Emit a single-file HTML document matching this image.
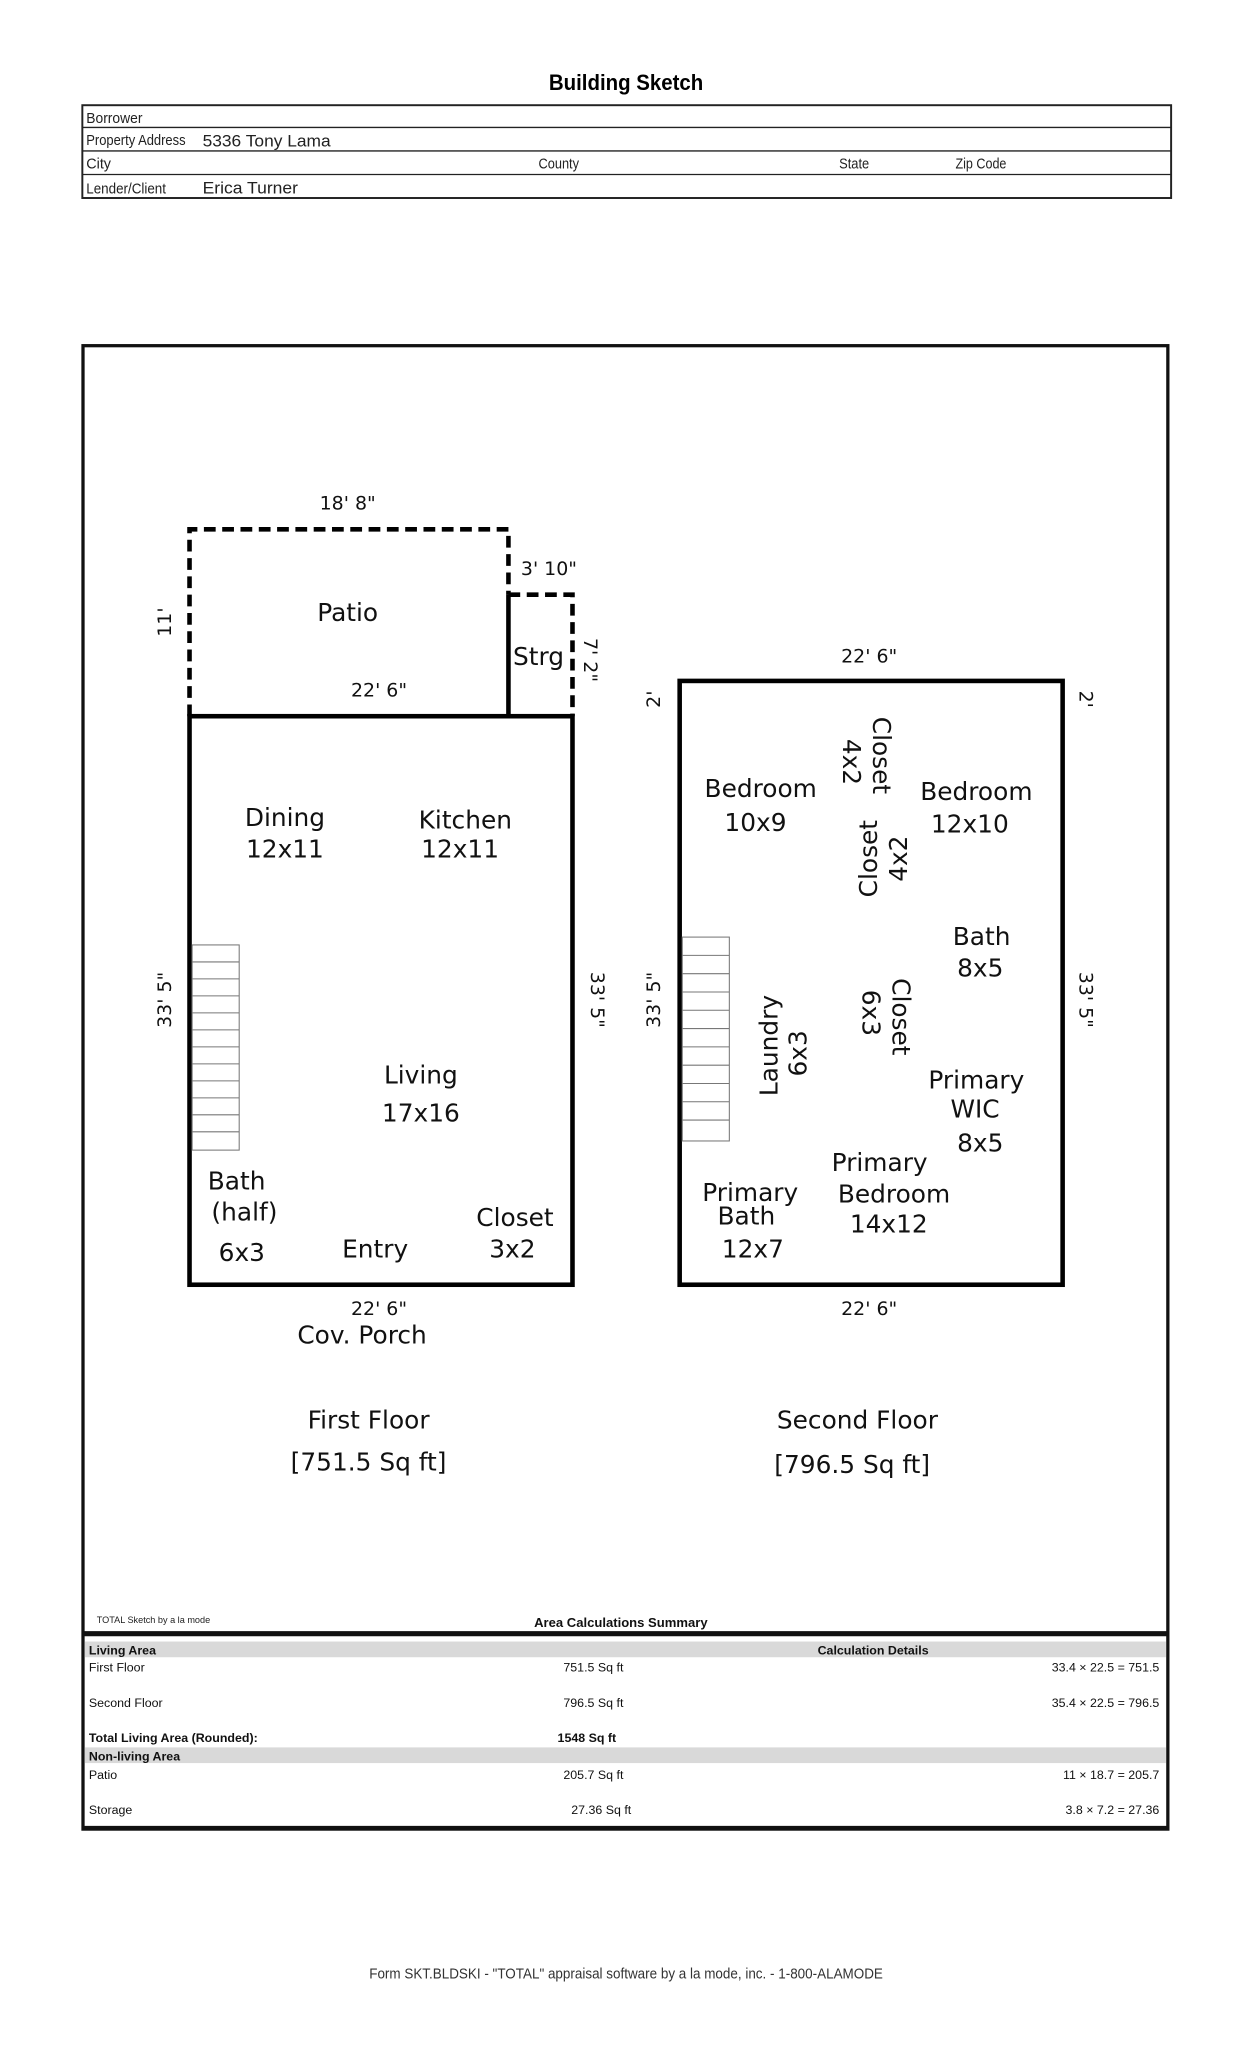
<!DOCTYPE html>
<html><head><meta charset="utf-8"><style>
html,body{margin:0;padding:0;background:#fff;}
svg{display:block;}
.c{font-family:"Liberation Sans Narrow","Liberation Sans",sans-serif;}
.r{font-family:"DejaVu Sans",sans-serif;fill:#111;}
</style></head><body>
<svg width="1243" height="2048" viewBox="0 0 951 1567" preserveAspectRatio="none" xmlns="http://www.w3.org/2000/svg">
<rect width="951" height="1567" fill="#fff"/>
<text x="479" y="69" text-anchor="middle" font-family="Liberation Sans" font-weight="bold" font-size="17" transform="translate(479 0) scale(0.92 1) translate(-479 0)">Building Sketch</text>
<g fill="none" stroke="#222">
<rect x="63" y="80.5" width="833" height="71" stroke-width="1.5"/>
<line x1="63" y1="97.5" x2="896" y2="97.5" stroke-width="1"/>
<line x1="63" y1="115.5" x2="896" y2="115.5" stroke-width="1"/>
<line x1="63" y1="133.5" x2="896" y2="133.5" stroke-width="1"/>
</g>
<g class="c" font-size="11" fill="#222">
<text x="66" y="94" textLength="43" lengthAdjust="spacingAndGlyphs">Borrower</text>
<text x="66" y="111" textLength="76" lengthAdjust="spacingAndGlyphs">Property Address</text>
<text x="155" y="112" font-size="12.5" textLength="98" lengthAdjust="spacingAndGlyphs">5336 Tony Lama</text>
<text x="66" y="129">City</text>
<text x="412" y="129" textLength="31" lengthAdjust="spacingAndGlyphs">County</text>
<text x="642" y="129" textLength="23" lengthAdjust="spacingAndGlyphs">State</text>
<text x="731" y="129" textLength="39" lengthAdjust="spacingAndGlyphs">Zip Code</text>
<text x="66" y="148" textLength="61" lengthAdjust="spacingAndGlyphs">Lender/Client</text>
<text x="155" y="148" font-size="12.5" textLength="73" lengthAdjust="spacingAndGlyphs">Erica Turner</text>
</g>
<rect x="63.5" y="264.5" width="830" height="1135" fill="none" stroke="#111" stroke-width="2.5"/>
<line x1="63" y1="1250" x2="894" y2="1250" stroke="#111" stroke-width="4"/>
<g stroke="#000" fill="none" stroke-width="3.5">
<rect x="145" y="548" width="293" height="435"/>
<path d="M145 548 V405 H389 V455" stroke-dasharray="9 5"/>
<path d="M389 455 H438 V548" stroke-dasharray="9 5"/>
<line x1="389" y1="455" x2="389" y2="548"/>
<rect x="520" y="521" width="293" height="462"/>
</g>
<g stroke="#777" stroke-width="0.8" fill="none">
<rect x="147" y="723" width="36" height="157"/>
<path d="M147 736H183M147 749H183M147 762H183M147 775H183M147 788H183M147 801H183M147 814H183M147 827H183M147 840H183M147 853H183M147 866H183"/>
<rect x="522" y="717" width="36" height="156"/>
<path d="M522 731H558M522 745H558M522 759H558M522 773H558M522 787H558M522 801H558M522 815H558M522 829H558M522 843H558M522 857H558"/>
</g>
<g class="r" font-size="14.5" text-anchor="middle">
<text x="266" y="390">18' 8"</text>
<text x="420" y="440">3' 10"</text>
<text x="290" y="533">22' 6"</text>
<text x="665" y="507">22' 6"</text>
<text x="290" y="1006">22' 6"</text>
<text x="665" y="1006">22' 6"</text>
<text transform="translate(131 476) rotate(-90)">11'</text>
<text transform="translate(447 505) rotate(90)">7' 2"</text>
<text transform="translate(131 765) rotate(-90)">33' 5"</text>
<text transform="translate(452 765) rotate(90)">33' 5"</text>
<text transform="translate(505 535) rotate(-90)">2'</text>
<text transform="translate(826 535) rotate(90)">2'</text>
<text transform="translate(505 765) rotate(-90)">33' 5"</text>
<text transform="translate(826 765) rotate(90)">33' 5"</text>
</g>
<g class="r" font-size="19" text-anchor="middle">
<text x="266" y="475">Patio</text>
<text x="412" y="509">Strg</text>
<text x="218" y="632">Dining</text><text x="218" y="656">12x11</text>
<text x="356" y="634">Kitchen</text><text x="352" y="656">12x11</text>
<text x="322" y="829">Living</text><text x="322" y="858">17x16</text>
<text x="181" y="910">Bath</text><text x="187" y="934">(half)</text><text x="185" y="965">6x3</text>
<text x="287" y="962">Entry</text>
<text x="394" y="938">Closet</text><text x="392" y="962">3x2</text>
<text x="277" y="1028">Cov. Porch</text>
<text x="282" y="1093">First Floor</text>
<text x="282" y="1125">[751.5 Sq ft]</text>
<text x="656" y="1093">Second Floor</text>
<text x="652" y="1127">[796.5 Sq ft]</text>
<text x="582" y="610">Bedroom</text><text x="578" y="636">10x9</text>
<text x="747" y="612">Bedroom</text><text x="742" y="637">12x10</text>
<text x="751" y="723">Bath</text><text x="750" y="747">8x5</text>
<text x="747" y="833">Primary</text><text x="746" y="855">WIC</text><text x="750" y="881">8x5</text>
<text x="673" y="896">Primary</text><text x="684" y="920">Bedroom</text><text x="680" y="943">14x12</text>
<text x="574" y="919">Primary</text><text x="571" y="937">Bath</text><text x="576" y="962">12x7</text>
<text transform="translate(668 578) rotate(90)">Closet</text>
<text transform="translate(645 583) rotate(90)">4x2</text>
<text transform="translate(671 657) rotate(-90)">Closet</text>
<text transform="translate(694 657) rotate(-90)">4x2</text>
<text transform="translate(595 800) rotate(-90)">Laundry</text>
<text transform="translate(617 806) rotate(-90)">6x3</text>
<text transform="translate(683 778) rotate(90)">Closet</text>
<text transform="translate(660 775) rotate(90)">6x3</text>
</g>
<text x="74" y="1242" class="c" font-size="7" fill="#222">TOTAL Sketch by a la mode</text>
<text x="475" y="1245" text-anchor="middle" class="c" font-size="10" font-weight="bold" fill="#111">Area Calculations Summary</text>
<rect x="65" y="1256" width="827" height="12" fill="#d9d9d9"/>
<rect x="65" y="1337" width="827" height="12" fill="#d9d9d9"/>
<line x1="63" y1="1398" x2="894" y2="1398" stroke="#111" stroke-width="2"/>
<g class="c" font-size="9.5" fill="#111">
<text x="68" y="1266" font-weight="bold">Living Area</text>
<text x="668" y="1266" font-weight="bold" text-anchor="middle">Calculation Details</text>
<text x="68" y="1279">First Floor</text>
<text x="454" y="1279" text-anchor="middle">751.5 Sq ft</text>
<text x="887" y="1279" text-anchor="end">33.4 × 22.5  =  751.5</text>
<text x="68" y="1306">Second Floor</text>
<text x="454" y="1306" text-anchor="middle">796.5 Sq ft</text>
<text x="887" y="1306" text-anchor="end">35.4 × 22.5  =  796.5</text>
<text x="68" y="1333" font-weight="bold">Total Living Area (Rounded):</text>
<text x="449" y="1333" font-weight="bold" text-anchor="middle">1548 Sq ft</text>
<text x="68" y="1347" font-weight="bold">Non-living Area</text>
<text x="68" y="1361">Patio</text>
<text x="454" y="1361" text-anchor="middle">205.7 Sq ft</text>
<text x="887" y="1361" text-anchor="end">11 × 18.7    =  205.7</text>
<text x="68" y="1388">Storage</text>
<text x="460" y="1388" text-anchor="middle">27.36 Sq ft</text>
<text x="887" y="1388" text-anchor="end">3.8 × 7.2    =  27.36</text>
</g>
<text x="479" y="1514" text-anchor="middle" class="c" font-size="11" fill="#333" textLength="393" lengthAdjust="spacingAndGlyphs">Form SKT.BLDSKI - "TOTAL" appraisal software by a la mode, inc. - 1-800-ALAMODE</text>
</svg>
</body></html>
